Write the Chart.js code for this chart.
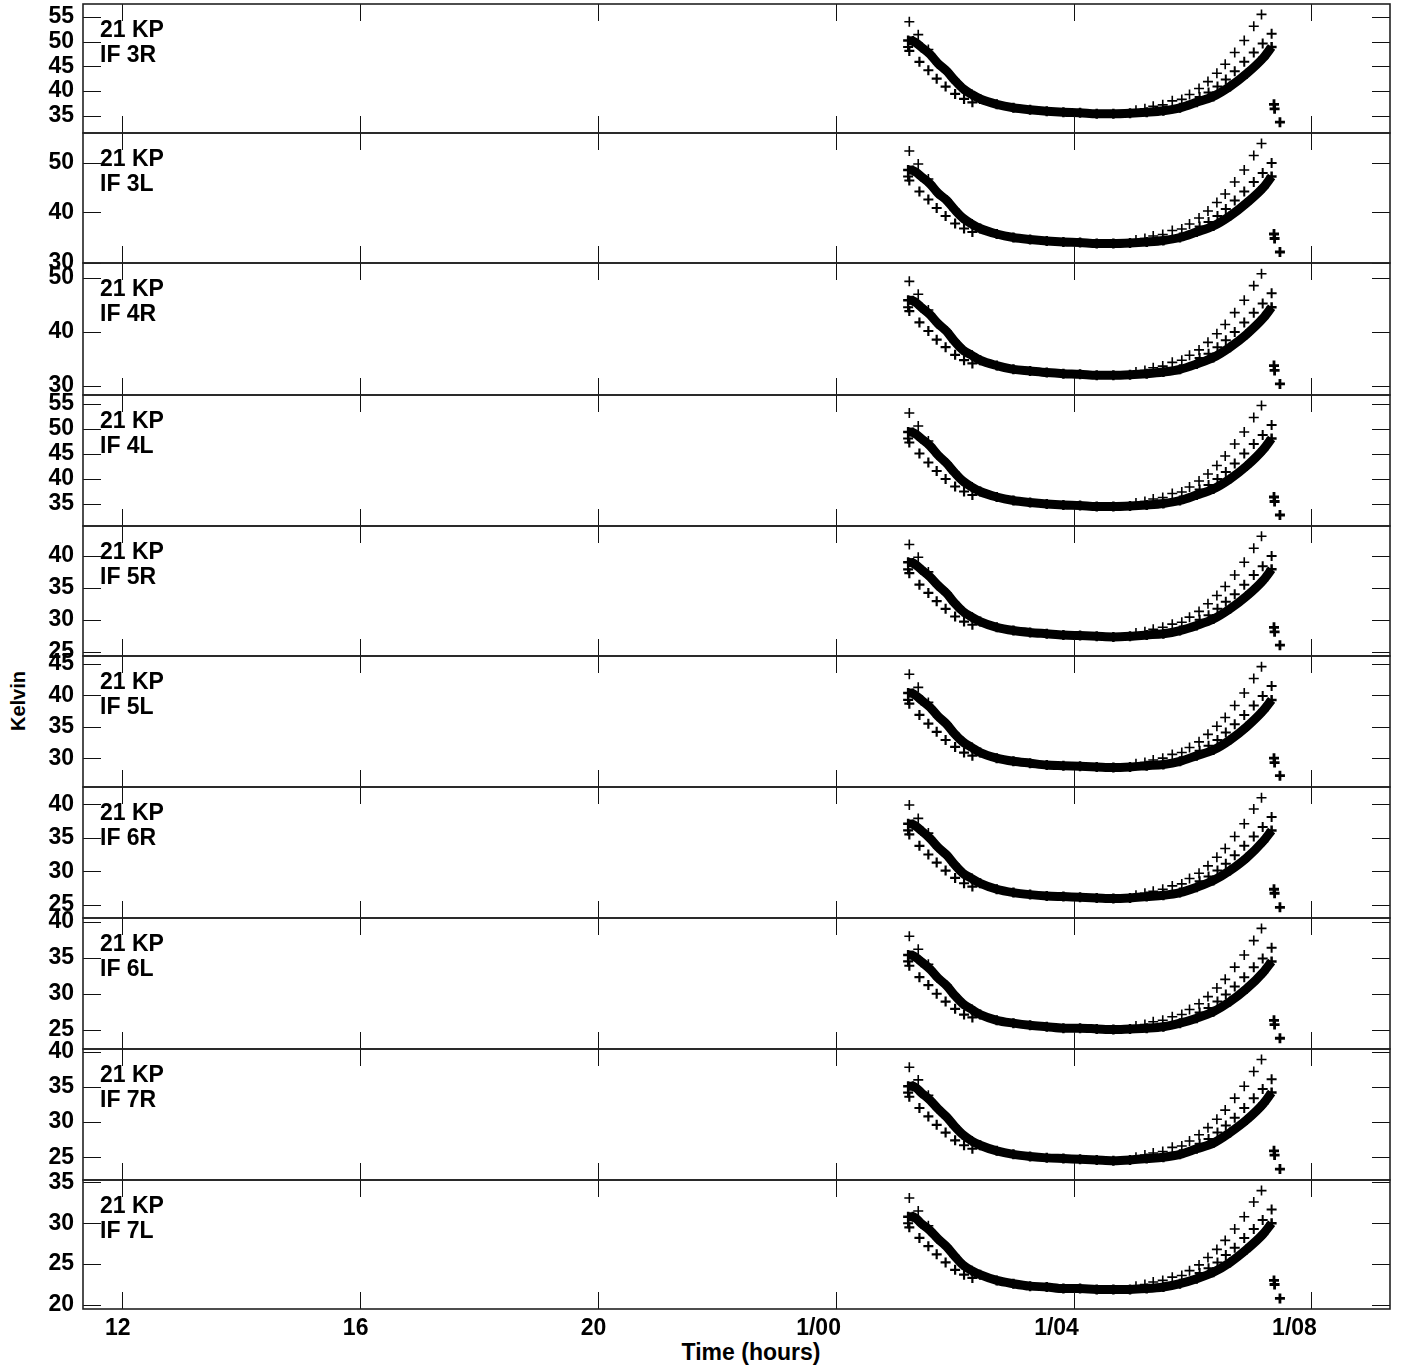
<!DOCTYPE html>
<html><head><meta charset="utf-8">
<script src="https://cdn.jsdelivr.net/npm/chart.js@4/dist/chart.umd.min.js"></script>
<style>
html,body{margin:0;padding:0;background:#fff;}
#wrap{position:relative;width:1401px;height:1368px;overflow:hidden;background:#fff;}
canvas{position:absolute;left:0;}
#ylab{position:absolute;left:18px;top:701px;transform:translate(-50%,-50%) rotate(-90deg);font:bold 20px "Liberation Sans",Arial,sans-serif;white-space:nowrap;color:#000;}
#xlab{position:absolute;left:751px;top:1352px;transform:translate(-50%,-50%);font:bold 23px "Liberation Sans",Arial,sans-serif;white-space:nowrap;color:#000;line-height:1;}
</style></head><body><div id="wrap"><div id="ylab">Kelvin</div><div id="xlab">Time (hours)</div></div>
<script>
// ---------------- data ----------------
const station = "21 KP";
const ifLabels = ["IF 3R","IF 3L","IF 4R","IF 4L","IF 5R","IF 5L","IF 6R","IF 6L","IF 7R","IF 7L"];
const xTicks = [12,16,20,24,28,32];
const xTickLabels = ["12","16","20","1/00","1/04","1/08"];
const yTicks = [[35,40,45,50,55],[30,40,50],[30,40,50],[35,40,45,50,55],[25,30,35,40],[30,35,40,45],[25,30,35,40],[25,30,35,40],[25,30,35,40],[20,25,30,35]];
const yMin = [31.5,29.9,28.35,30.5,24.3,25.4,23.0,22.3,21.75,19.5];
const yMax = [57.6,55.9,52.8,56.7,44.7,46.3,42.6,40.55,40.4,35.3];

const bandT = [25.22,25.30,25.45,25.59,25.72,25.87,26.00,26.14,26.29,26.43,26.71,26.99,27.27,27.55,27.83,28.11,28.39,28.67,28.95,29.23,29.51,29.79,30.07,30.35,30.63,30.91,31.19,31.33];
const bandValues = [
 [50.2,50.1,48.8,47.4,45.6,44.0,42.2,40.5,39.3,38.4,37.3,36.6,36.2,35.9,35.7,35.6,35.4,35.4,35.5,35.7,36.0,36.6,37.7,38.9,40.9,43.5,46.7,48.9],
 [48.5,48.4,47.1,45.7,43.9,42.4,40.6,38.9,37.7,36.8,35.7,35.0,34.6,34.3,34.1,34.0,33.8,33.8,33.9,34.1,34.4,35.0,36.1,37.3,39.3,41.9,45.0,47.2],
 [45.9,45.8,44.5,43.2,41.6,40.1,38.3,36.7,35.7,34.8,33.8,33.1,32.8,32.5,32.3,32.2,32.0,32.0,32.1,32.3,32.6,33.1,34.1,35.3,37.2,39.6,42.6,44.6],
 [49.3,49.2,47.9,46.5,44.7,43.0,41.2,39.5,38.3,37.4,36.3,35.6,35.2,34.9,34.7,34.6,34.4,34.4,34.5,34.7,35.0,35.6,36.7,37.9,39.9,42.5,45.8,48.0],
 [39.0,38.9,37.8,36.7,35.4,34.1,32.6,31.3,30.4,29.7,28.8,28.3,28.0,27.8,27.6,27.5,27.4,27.3,27.4,27.6,27.8,28.3,29.1,30.1,31.7,33.7,36.2,37.9],
 [40.4,40.3,39.2,38.1,36.7,35.4,33.9,32.6,31.7,30.9,30.0,29.5,29.2,28.9,28.8,28.7,28.6,28.5,28.6,28.8,29.0,29.5,30.4,31.3,32.9,35.0,37.6,39.3],
 [37.1,37.0,36.0,34.9,33.6,32.4,31.0,29.7,28.9,28.2,27.3,26.8,26.5,26.3,26.2,26.1,26.0,25.9,26.0,26.2,26.4,26.8,27.6,28.6,30.1,32.0,34.5,36.1],
 [35.4,35.3,34.4,33.4,32.2,31.1,29.8,28.6,27.8,27.1,26.3,25.9,25.6,25.4,25.2,25.2,25.1,25.0,25.1,25.2,25.4,25.9,26.6,27.5,28.9,30.7,33.0,34.5],
 [35.1,35.1,34.1,33.1,31.9,30.7,29.4,28.2,27.3,26.7,25.9,25.4,25.1,24.9,24.8,24.7,24.6,24.5,24.6,24.8,25.0,25.4,26.2,27.0,28.5,30.3,32.6,34.2],
 [30.8,30.8,29.9,29.1,28.1,27.1,26.0,24.9,24.2,23.7,23.0,22.6,22.3,22.2,22.0,22.0,21.9,21.9,21.9,22.0,22.2,22.6,23.2,24.0,25.2,26.8,28.7,30.0]
];

const highT = [31.16,31.03,30.87,30.71,30.55,30.41,30.26,30.11,29.95,29.82,29.66,29.50,29.34,29.20,29.05];
const highValues = [
 [55.5,53.1,50.2,47.8,45.4,43.6,41.9,40.5,39.3,38.3,38.0,37.2,36.9,36.4,36.1],
 [53.8,51.4,48.5,46.1,43.7,42.0,40.3,38.9,37.7,36.7,36.4,35.6,35.3,34.8,34.5],
 [50.8,48.6,45.9,43.6,41.4,39.7,38.1,36.7,35.7,34.8,34.4,33.7,33.4,32.9,32.6],
 [54.6,52.2,49.3,46.9,44.5,42.6,40.9,39.5,38.3,37.3,37.0,36.2,35.9,35.4,35.1],
 [43.1,41.2,39.0,37.0,35.2,33.8,32.5,31.3,30.4,29.6,29.3,28.8,28.5,28.1,27.9],
 [44.6,42.7,40.4,38.4,36.5,35.1,33.8,32.6,31.7,30.9,30.6,30.0,29.7,29.3,29.1],
 [41.0,39.3,37.1,35.2,33.4,32.1,30.8,29.7,28.9,28.1,27.8,27.3,27.0,26.7,26.4],
 [39.1,37.4,35.4,33.7,32.0,30.8,29.6,28.6,27.8,27.1,26.8,26.3,26.1,25.7,25.5],
 [38.9,37.2,35.1,33.4,31.7,30.4,29.2,28.2,27.3,26.6,26.4,25.8,25.6,25.3,25.0],
 [34.0,32.6,30.8,29.3,27.9,26.8,25.8,24.9,24.2,23.6,23.4,23.0,22.8,22.5,22.3]
];

const midT = [31.33,31.18,31.03,30.87,30.71,30.56,30.42,30.27,30.12];
const midValues = [
 [51.6,49.6,47.8,45.9,44.0,42.3,40.9,39.7,38.8],
 [49.9,47.9,46.1,44.2,42.4,40.7,39.3,38.1,37.2],
 [47.2,45.3,43.6,41.8,40.0,38.5,37.2,36.0,35.2],
 [50.7,48.7,46.9,45.0,43.0,41.3,39.9,38.7,37.8],
 [40.0,38.4,37.0,35.5,34.0,32.8,31.7,30.7,30.0],
 [41.5,39.9,38.4,36.9,35.4,34.1,32.9,32.0,31.2],
 [38.1,36.6,35.2,33.8,32.4,31.1,30.1,29.2,28.5],
 [36.4,34.9,33.7,32.3,31.0,29.9,28.9,28.0,27.4],
 [36.1,34.7,33.4,32.0,30.6,29.5,28.5,27.6,26.9],
 [31.7,30.4,29.3,28.2,27.0,26.1,25.2,24.5,23.9]
];

const leftUpT = [25.24,25.39,25.56];
const leftUpValues = [
 [54.0,51.4,48.4],[52.3,49.7,46.7],[49.4,47.0,44.1],[53.1,50.5,47.5],[41.8,39.8,37.5],
 [43.4,41.3,38.9],[39.9,37.9,35.7],[38.0,36.2,34.1],[37.8,36.0,33.8],[33.1,31.5,29.7]
];

const leftLowT = [25.22,25.24,25.41,25.56,25.70,25.85,26.01,26.16,26.30];
const leftLowValues = [
 [48.9,48.1,45.9,44.2,42.5,40.9,39.4,38.4,37.7],
 [47.2,46.4,44.2,42.6,40.9,39.3,37.8,36.8,36.1],
 [44.6,43.9,41.8,40.2,38.6,37.2,35.8,34.8,34.2],
 [48.0,47.2,45.0,43.2,41.5,39.9,38.4,37.4,36.7],
 [37.9,37.3,35.5,34.2,32.9,31.7,30.5,29.7,29.2],
 [39.3,38.7,36.9,35.5,34.2,32.9,31.8,30.9,30.4],
 [36.1,35.5,33.8,32.5,31.3,30.1,29.0,28.2,27.7],
 [34.5,33.9,32.3,31.2,30.0,28.9,27.9,27.1,26.7],
 [34.2,33.6,32.0,30.8,29.6,28.5,27.4,26.7,26.2],
 [30.0,29.5,28.2,27.2,26.2,25.2,24.3,23.7,23.3]
];

const clusterT = [31.37,31.38,31.47];
const clusterValues = [
 [37.3,36.4,33.7],[35.7,34.8,32.1],[33.8,32.9,30.4],[36.3,35.4,32.7],[28.8,28.1,26.0],
 [30.0,29.3,27.2],[27.3,26.7,24.6],[26.3,25.7,23.8],[25.9,25.3,23.3],[23.0,22.5,20.8]
];

// ---------------- layout ----------------
const X_MIN = 11.35, X_MAX = 33.32;
const edges = [4,133,263,395,526,656,787,918,1049,1180,1309];
const PAD = 32, AXIS_W = 83, RIGHT_PAD = 11;
const FONT = '"Liberation Sans", Arial, Helvetica, sans-serif';

const framePlugin = {
  id: 'frame',
  afterDraw(chart, args, opts) {
    const {ctx, chartArea: a, scales: {x, y}} = chart;
    ctx.save();
    ctx.strokeStyle = '#111';
    ctx.lineWidth = 1;
    const seg = (x1, y1, x2, y2) => { ctx.beginPath(); ctx.moveTo(x1, y1); ctx.lineTo(x2, y2); ctx.stroke(); };
    for (const v of yTicks[opts.idx]) {
      const py = Math.round(y.getPixelForValue(v)) + 0.5;
      seg(a.left, py, a.left + 18, py);
      seg(a.right - 18, py, a.right, py);
    }
    for (const v of xTicks) {
      const px = Math.round(x.getPixelForValue(v)) + 0.5;
      seg(px, a.top, px, a.top + 17);
      seg(px, a.bottom - 17, px, a.bottom);
    }
    ctx.lineWidth = 1.6;
    ctx.strokeStyle = '#222';
    ctx.strokeRect(a.left, a.top, a.right - a.left, a.bottom - a.top);
    ctx.fillStyle = '#000';
    ctx.font = 'bold 23px ' + FONT;
    ctx.textAlign = 'left';
    ctx.textBaseline = 'alphabetic';
    ctx.fillText(station, a.left + 17, a.top + 33);
    ctx.fillText(opts.label, a.left + 17, a.top + 57.5);
    if (opts.xLabels) {
      ctx.textAlign = 'center';
      xTicks.forEach((v, k) => {
        const lab = xTickLabels[k];
        const shift = lab.indexOf('/') >= 0 ? -17 : -4;
        ctx.fillText(lab, x.getPixelForValue(v) + shift, a.bottom + 26);
      });
    }
    ctx.restore();
  }
};

const pts = (ts, vs) => ts.map((t, j) => ({x: t, y: vs[j]}));
const wrap = document.getElementById('wrap');

for (let i = 0; i < 10; i++) {
  const last = i === 9;
  const c = document.createElement('canvas');
  const h = (edges[i + 1] - edges[i]) + 2 * PAD;
  c.width = 1401; c.height = h;
  c.style.top = (edges[i] - PAD) + 'px';
  c.style.width = '1401px'; c.style.height = h + 'px';
  wrap.appendChild(c);

  const crossDs = (data, bw, r) => ({
    data, showLine: false, pointStyle: 'cross', pointRadius: r, pointBorderWidth: bw,
    pointBorderColor: '#000', pointBackgroundColor: '#000', borderColor: '#000'
  });

  new Chart(c, {
    type: 'scatter',
    data: {
      datasets: [
        { data: pts(bandT, bandValues[i]), showLine: true, borderColor: '#000', borderWidth: 9,
          cubicInterpolationMode: 'monotone', pointStyle: 'cross', pointRadius: 5, pointBorderWidth: 2.5,
          pointBorderColor: '#000', pointBackgroundColor: '#000' },
        crossDs(pts(highT, highValues[i]), 1.6, 5),
        crossDs(pts(midT, midValues[i]), 2, 5),
        crossDs(pts(leftUpT, leftUpValues[i]), 1.6, 5),
        crossDs(pts(leftLowT, leftLowValues[i]), 2.2, 5),
        crossDs(pts(clusterT, clusterValues[i]), 2.8, 5)
      ]
    },
    options: {
      responsive: false, animation: false, devicePixelRatio: 1,
      events: [],
      clip: false,
      layout: { padding: { top: PAD, bottom: PAD, left: 0, right: RIGHT_PAD } },
      plugins: { legend: { display: false }, tooltip: { enabled: false },
                 frame: { idx: i, label: ifLabels[i], xLabels: last } },
      scales: {
        x: {
          type: 'linear', min: X_MIN, max: X_MAX, display: false,
          afterBuildTicks: s => { s.ticks = xTicks.map(v => ({value: v})); }
        },
        y: {
          type: 'linear', min: yMin[i], max: yMax[i],
          afterBuildTicks: s => { s.ticks = yTicks[i].map(v => ({value: v})); },
          ticks: { callback: v => String(v), font: { family: FONT, size: 23, weight: 'bold' },
                   color: '#000', padding: 9, autoSkip: false },
          grid: { display: false, drawTicks: false }, border: { display: false },
          afterFit: s => { s.width = AXIS_W; }
        }
      }
    },
    plugins: [framePlugin]
  });
}
</script>
</body></html>
